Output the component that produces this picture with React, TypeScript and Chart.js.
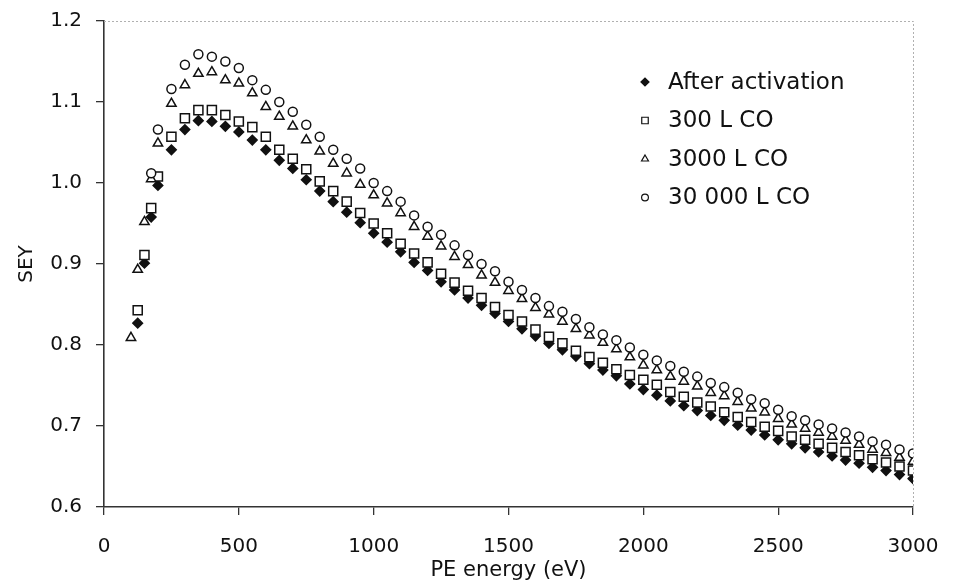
import React, { useEffect, useRef } from "react";
import { Chart, registerables } from "chart.js";
import { drawPoint } from "chart.js/helpers";

Chart.register(...registerables);

// PE energy (eV)
const energies = [
  100, 125, 150, 175, 200, 250, 300, 350, 400, 450, 500, 550, 600, 650, 700, 750,
  800, 850, 900, 950, 1000, 1050, 1100, 1150, 1200, 1250, 1300, 1350, 1400, 1450,
  1500, 1550, 1600, 1650, 1700, 1750, 1800, 1850, 1900, 1950, 2000, 2050, 2100,
  2150, 2200, 2250, 2300, 2350, 2400, 2450, 2500, 2550, 2600, 2650, 2700, 2750,
  2800, 2850, 2900, 2950, 3000,
];

const afterActivation = [
  null, 0.827, 0.901, 0.958, 0.997, 1.041, 1.066, 1.077, 1.076, 1.07, 1.063, 1.053,
  1.041, 1.028, 1.018, 1.004, 0.99, 0.977, 0.964, 0.951, 0.938, 0.927, 0.915, 0.902,
  0.892, 0.878, 0.868, 0.858, 0.849, 0.839, 0.829, 0.82, 0.811, 0.802, 0.794, 0.786,
  0.777, 0.769, 0.762, 0.752, 0.745, 0.738, 0.731, 0.725, 0.719, 0.713, 0.707, 0.701,
  0.695, 0.689, 0.683, 0.678, 0.673, 0.668, 0.663, 0.658, 0.654, 0.649, 0.645, 0.64,
  0.635,
];

const co300 = [
  null, 0.843, 0.911, 0.969, 1.008, 1.057, 1.08, 1.09, 1.09, 1.084, 1.076, 1.069,
  1.057, 1.041, 1.03, 1.017, 1.002, 0.99, 0.977, 0.963, 0.95, 0.938, 0.925, 0.913,
  0.902, 0.888, 0.877, 0.867, 0.858, 0.847, 0.837, 0.829, 0.819, 0.81, 0.802, 0.793,
  0.785, 0.778, 0.77, 0.763, 0.757, 0.751, 0.742, 0.736, 0.729, 0.724, 0.717, 0.711,
  0.705, 0.699, 0.694, 0.687, 0.683, 0.678, 0.673, 0.668, 0.664, 0.659, 0.655, 0.65,
  0.645,
];

const co3000 = [
  0.809, 0.893, 0.952, 1.005, 1.049, 1.098, 1.121, 1.135, 1.137, 1.127, 1.123, 1.111,
  1.094, 1.082, 1.07, 1.053, 1.039, 1.024, 1.012, 0.998, 0.985, 0.975, 0.963, 0.946,
  0.934, 0.922, 0.909, 0.899, 0.886, 0.877, 0.867, 0.857, 0.846, 0.838, 0.829, 0.82,
  0.812, 0.803, 0.795, 0.785, 0.775, 0.769, 0.761, 0.755, 0.749, 0.741, 0.737, 0.73,
  0.722, 0.717, 0.709, 0.702, 0.697, 0.692, 0.687, 0.682, 0.677, 0.671, 0.667, 0.661,
  0.656,
];

const co30000 = [
  null, null, null, 1.012, 1.066, 1.116, 1.146, 1.159, 1.156, 1.15, 1.142, 1.127,
  1.115, 1.1, 1.088, 1.072, 1.057, 1.041, 1.03, 1.018, 1.0, 0.99, 0.977, 0.96,
  0.946, 0.936, 0.923, 0.911, 0.9, 0.891, 0.878, 0.868, 0.858, 0.848, 0.841, 0.832,
  0.822, 0.813, 0.806, 0.797, 0.788, 0.781, 0.774, 0.767, 0.761, 0.753, 0.748, 0.741,
  0.733, 0.728, 0.72, 0.712, 0.707, 0.702, 0.697, 0.692, 0.687, 0.681, 0.677, 0.671,
  0.666,
];

const seriesLabels = ["After activation", "300 L CO", "3000 L CO", "30 000 L CO"];
const xTickValues = [0, 500, 1000, 1500, 2000, 2500, 3000];
const yTickValues = [0.6, 0.7, 0.8, 0.9, 1.0, 1.1, 1.2];

const FONT = "'DejaVu Sans', sans-serif";
const INK = "#111";

const toPoints = (vals: (number | null)[]) =>
  energies
    .map((e, i) => ({ x: e, y: vals[i] }))
    .filter((p) => p.y !== null && p.y !== undefined);

const styles = [
  { pointStyle: "rectRot", radius: 4.8, fill: INK, legendRadius: 4 },
  { pointStyle: "rect", radius: 6.4, fill: "#fff", legendRadius: 4.6 },
  { pointStyle: "triangle", radius: 5.4, fill: "#fff", legendRadius: 4 },
  { pointStyle: "circle", radius: 4.5, fill: "#fff", legendRadius: 3.4 },
];

const framePlugin = {
  id: "frameAndLegend",
  afterDatasetsDraw(chart: any) {
    const { ctx, chartArea: a } = chart;
    ctx.save();
    ctx.strokeStyle = "#b0b0b0";
    ctx.lineWidth = 1;
    ctx.setLineDash([2, 2]);
    ctx.beginPath();
    ctx.moveTo(a.left, a.top + 0.5);
    ctx.lineTo(a.right + 0.5, a.top + 0.5);
    ctx.lineTo(a.right + 0.5, a.bottom);
    ctx.stroke();
    ctx.setLineDash([]);

    // legend
    const mx = a.left + 541;
    const tx = a.left + 564;
    const y0 = a.top + 61;
    const gap = 38.5;
    ctx.font = `23px ${FONT}`;
    ctx.textBaseline = "middle";
    ctx.textAlign = "left";
    seriesLabels.forEach((label, i) => {
      const s = styles[i];
      const y = y0 + i * gap;
      ctx.fillStyle = s.fill;
      ctx.strokeStyle = INK;
      ctx.lineWidth = 1.2;
      drawPoint(ctx, { pointStyle: s.pointStyle as any, radius: s.legendRadius, rotation: 0, borderWidth: 1.2 }, mx, y);
      ctx.fillStyle = INK;
      ctx.fillText(label, tx, y + 1);
    });
    ctx.restore();
  },
};

export default function App() {
  const ref = useRef<HTMLCanvasElement | null>(null);

  useEffect(() => {
    if (!ref.current) return;
    const seriesData = [afterActivation, co300, co3000, co30000];
    const chart = new Chart(ref.current, {
      type: "scatter",
      data: {
        datasets: seriesData.map((vals, i) => ({
          label: seriesLabels[i],
          data: toPoints(vals) as any,
          pointStyle: styles[i].pointStyle as any,
          pointRadius: styles[i].radius,
          pointBackgroundColor: styles[i].fill,
          pointBorderColor: INK,
          pointBorderWidth: 1.5,
          showLine: false,
          order: 4 - i,
        })),
      },
      options: {
        responsive: false,
        animation: false,
        layout: { padding: { top: 21, right: 44, bottom: 0, left: 0 } },
        plugins: { legend: { display: false }, tooltip: { enabled: false } },
        scales: {
          x: {
            type: "linear",
            position: "bottom",
            min: 0,
            max: 3000,
            afterBuildTicks: (s: any) => {
              s.ticks = xTickValues.map((v) => ({ value: v }));
            },
            afterFit: (s: any) => {
              s.height = 76;
              s.paddingLeft = 0;
              s.paddingRight = 0;
            },
            grid: { drawOnChartArea: false, drawTicks: true, tickLength: 8, color: "#333", lineWidth: 1.3 },
            border: { color: "#333", width: 1.6 },
            ticks: {
              font: { family: FONT, size: 20 },
              color: INK,
              padding: 20,
              maxRotation: 0,
              callback: (v: any) => String(v),
            },
            title: {
              display: true,
              text: "PE energy (eV)",
              font: { family: FONT, size: 21 },
              color: INK,
              padding: { top: 0, bottom: 0 },
            },
          },
          y: {
            type: "linear",
            min: 0.6,
            max: 1.2,
            afterBuildTicks: (s: any) => {
              s.ticks = yTickValues.map((v) => ({ value: v }));
            },
            afterFit: (s: any) => {
              s.width = 104;
              s.paddingTop = 0;
              s.paddingBottom = 0;
            },
            grid: { drawOnChartArea: false, drawTicks: true, tickLength: 8, color: "#333", lineWidth: 1.3 },
            border: { color: "#333", width: 1.6 },
            ticks: {
              font: { family: FONT, size: 20 },
              color: INK,
              padding: 14,
              callback: (v: any) => Number(v).toFixed(1),
            },
            title: {
              display: true,
              text: "SEY",
              font: { family: FONT, size: 20 },
              color: INK,
              padding: { top: 15, bottom: 0 },
            },
          },
        },
      },
      plugins: [framePlugin],
    });
    return () => chart.destroy();
  }, []);

  return (
    <div style={{ position: "fixed", left: 0, top: 0, width: 957, height: 583, background: "#fff" }}>
      <canvas ref={ref} width={957} height={583} />
    </div>
  );
}
